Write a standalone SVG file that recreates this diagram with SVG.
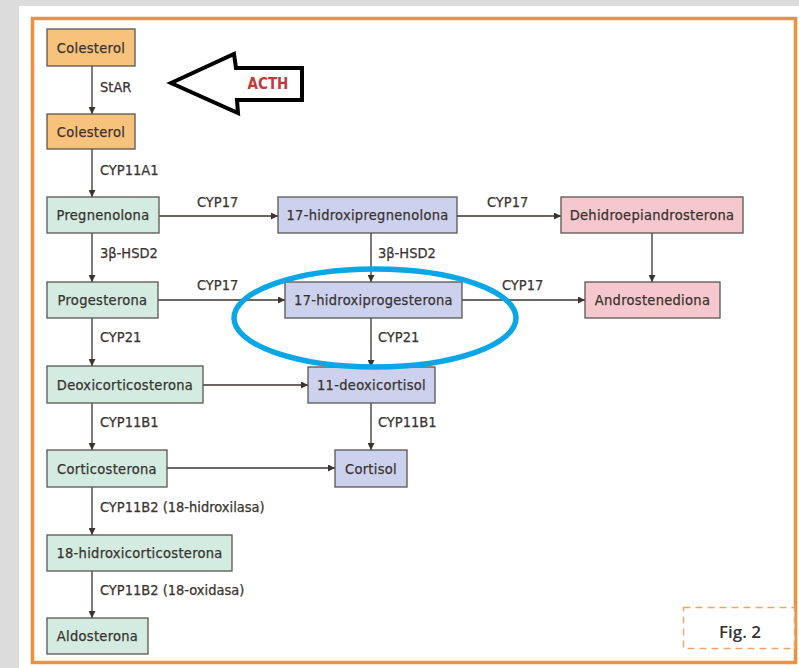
<svg xmlns="http://www.w3.org/2000/svg" width="799" height="668" viewBox="0 0 799 668">
<defs>
<marker id="ah" viewBox="0 0 10 10" refX="10" refY="5" markerWidth="7" markerHeight="7" markerUnits="userSpaceOnUse" orient="auto">
<path d="M0,0 L10,5 L0,10 z" fill="#3b332f"/>
</marker>
<style>
.bx{stroke:#5a5550;stroke-width:1.3}
.or{fill:#f6c27c}
.gr{fill:#d3ebe0}
.bl{fill:#ccd2ee}
.pk{fill:#f5c8cd}
.t{font-family:"DejaVu Sans Condensed","Liberation Sans Narrow","Liberation Sans",sans-serif;font-size:14.5px;letter-spacing:0.3px;fill:#3a3330;stroke:#3a3330;stroke-width:0.25;text-anchor:middle;dominant-baseline:central}
.l{font-family:"DejaVu Sans Condensed","Liberation Sans Narrow","Liberation Sans",sans-serif;font-size:14.5px;fill:#3a3330;stroke:#3a3330;stroke-width:0.25;dominant-baseline:central}
.c{stroke:#3b332f;stroke-width:1.3;fill:none;marker-end:url(#ah)}
</style>
</defs>
<rect width="799" height="668" fill="#dcdcdc"/>
<rect x="19" y="6" width="780" height="662" fill="#ffffff"/>
<rect x="32.5" y="18.5" width="763" height="644" fill="none" stroke="#f0903e" stroke-width="3.5"/>

<g id="connectors">
<line class="c" x1="92" y1="66" x2="92" y2="114"/>
<line class="c" x1="92" y1="149" x2="92" y2="197"/>
<line class="c" x1="92" y1="233" x2="92" y2="282"/>
<line class="c" x1="92" y1="318" x2="92" y2="366"/>
<line class="c" x1="92" y1="403" x2="92" y2="450"/>
<line class="c" x1="92" y1="487" x2="92" y2="535"/>
<line class="c" x1="92" y1="571" x2="92" y2="618"/>
<line class="c" x1="371" y1="233" x2="371" y2="282"/>
<line class="c" x1="371" y1="318" x2="371" y2="367"/>
<line class="c" x1="371" y1="403" x2="371" y2="450"/>
<line class="c" x1="652" y1="233" x2="652" y2="282"/>
<line class="c" x1="159" y1="216" x2="278" y2="216"/>
<line class="c" x1="457" y1="216" x2="561" y2="216"/>
<line class="c" x1="158" y1="300" x2="285" y2="300"/>
<line class="c" x1="462" y1="300" x2="585" y2="300"/>
<line class="c" x1="203" y1="385" x2="308" y2="385"/>
<line class="c" x1="167" y1="468" x2="335" y2="468"/>
<text class="l" x="100" y="87">StAR</text>
<text class="l" x="100" y="170">CYP11A1</text>
<text class="l" x="100" y="253">3β-HSD2</text>
<text class="l" x="100" y="337">CYP21</text>
<text class="l" x="100" y="422">CYP11B1</text>
<text class="l" x="100" y="507">CYP11B2 (18-hidroxilasa)</text>
<text class="l" x="100" y="590">CYP11B2 (18-oxidasa)</text>
<text class="l" x="378" y="253">3β-HSD2</text>
<text class="l" x="378" y="337">CYP21</text>
<text class="l" x="378" y="422">CYP11B1</text>
<text class="l" x="197" y="202">CYP17</text>
<text class="l" x="197" y="285">CYP17</text>
<text class="l" x="487" y="202">CYP17</text>
<text class="l" x="502" y="285">CYP17</text>
</g>

<g id="colesterol1"><rect class="bx or" x="47" y="29" width="88" height="37"/><text class="t" x="91" y="47.5">Colesterol</text></g>
<g id="colesterol2"><rect class="bx or" x="47" y="114" width="88" height="35"/><text class="t" x="91" y="131.5">Colesterol</text></g>
<g id="pregnenolona"><rect class="bx gr" x="47" y="197" width="112" height="36"/><text class="t" x="103" y="215">Pregnenolona</text></g>
<g id="progesterona"><rect class="bx gr" x="47" y="282" width="111" height="36"/><text class="t" x="102.5" y="300">Progesterona</text></g>
<g id="deoxicorticosterona"><rect class="bx gr" x="47" y="366" width="156" height="37"/><text class="t" x="125" y="384.5">Deoxicorticosterona</text></g>
<g id="corticosterona"><rect class="bx gr" x="47" y="450" width="120" height="37"/><text class="t" x="107" y="468.5">Corticosterona</text></g>
<g id="hidroxicorticosterona"><rect class="bx gr" x="47" y="535" width="185" height="36"/><text class="t" x="139.5" y="553">18-hidroxicorticosterona</text></g>
<g id="aldosterona"><rect class="bx gr" x="47" y="618" width="101" height="36"/><text class="t" x="97.5" y="636">Aldosterona</text></g>
<g id="hidroxipregnenolona"><rect class="bx bl" x="278" y="197" width="179" height="36"/><text class="t" x="367.5" y="215">17-hidroxipregnenolona</text></g>
<g id="hidroxiprogesterona"><rect class="bx bl" x="285" y="282" width="177" height="36"/><text class="t" x="373.5" y="300">17-hidroxiprogesterona</text></g>
<g id="deoxicortisol"><rect class="bx bl" x="308" y="367" width="127" height="36"/><text class="t" x="371.5" y="385">11-deoxicortisol</text></g>
<g id="cortisol"><rect class="bx bl" x="335" y="450" width="72" height="37"/><text class="t" x="371" y="468.5">Cortisol</text></g>
<g id="dhea"><rect class="bx pk" x="561" y="197" width="182" height="36"/><text class="t" x="652" y="215">Dehidroepiandrosterona</text></g>
<g id="androstenediona"><rect class="bx pk" x="585" y="282" width="135" height="36"/><text class="t" x="652.5" y="300">Androstenediona</text></g>

<g id="acth">
<polygon points="171,83 234,54 236,68 302,68 302,100 237,100 238,113" fill="#ffffff" stroke="#000000" stroke-width="4" stroke-linejoin="miter"/>
<text x="268" y="84" font-family="'DejaVu Sans Condensed','Liberation Sans Narrow','Liberation Sans',sans-serif" font-size="15" font-weight="bold" fill="#c0393b" text-anchor="middle" dominant-baseline="central">ACTH</text>
</g>

<ellipse id="highlight" cx="375" cy="318" rx="141" ry="49" fill="none" stroke="#0aa6e6" stroke-width="5.5"/>

<g id="fig">
<rect x="683.5" y="607.5" width="111" height="41" fill="#ffffff" stroke="#f0a467" stroke-width="1.5" stroke-dasharray="7,5"/>
<text x="740" y="631" font-family="'Open Sans','Liberation Sans',sans-serif" font-size="17" font-weight="600" fill="#333333" text-anchor="middle" dominant-baseline="central">Fig. 2</text>
</g>
</svg>
